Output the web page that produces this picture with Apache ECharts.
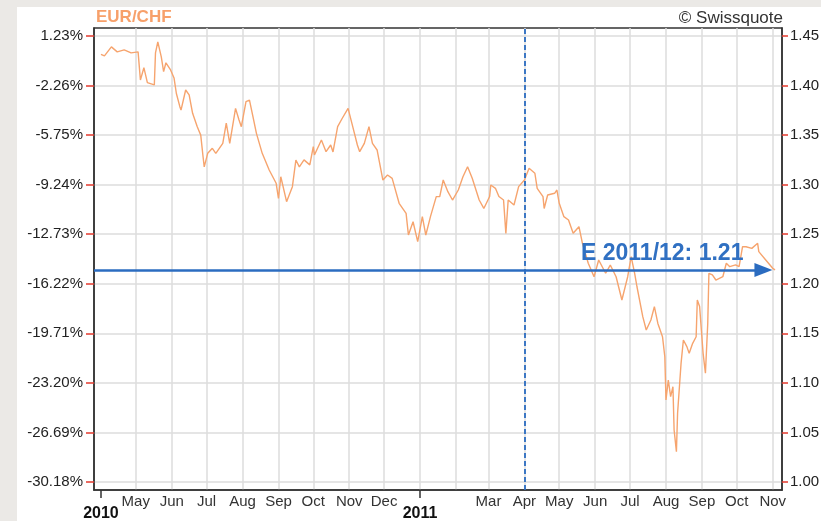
<!DOCTYPE html>
<html><head><meta charset="utf-8">
<script src="https://cdn.jsdelivr.net/npm/echarts@6/dist/echarts.min.js"></script>
<style>
html,body{margin:0;padding:0;background:#ebe9e6;width:821px;height:521px;overflow:hidden}
#c{position:absolute;left:17px;top:7px;width:804px;height:514px;background:#fff}
</style></head><body><div id="c"></div>
<script>
const dates = [
'2010-04-01','2010-04-04','2010-04-10','2010-04-15','2010-04-21','2010-04-27','2010-05-03','2010-05-05','2010-05-08','2010-05-11',
'2010-05-17','2010-05-18','2010-05-20','2010-05-23','2010-05-25','2010-05-27','2010-05-31','2010-06-03','2010-06-05','2010-06-08',
'2010-06-09','2010-06-13','2010-06-16','2010-06-19','2010-06-23','2010-06-26','2010-06-28','2010-06-29','2010-07-02','2010-07-06',
'2010-07-09','2010-07-15','2010-07-18','2010-07-21','2010-07-26','2010-07-29','2010-07-31','2010-08-04','2010-08-07','2010-08-10',
'2010-08-13','2010-08-18','2010-08-24','2010-08-30','2010-09-01','2010-09-03','2010-09-08','2010-09-13','2010-09-16','2010-09-19',
'2010-09-23','2010-09-28','2010-10-01','2010-10-02','2010-10-08','2010-10-12','2010-10-16','2010-10-18','2010-10-22','2010-10-26',
'2010-10-31','2010-11-04','2010-11-08','2010-11-10','2010-11-14','2010-11-18','2010-11-21','2010-11-25','2010-11-30','2010-12-04',
'2010-12-08','2010-12-14','2010-12-20','2010-12-22','2010-12-26','2010-12-30','2011-01-03','2011-01-06','2011-01-10','2011-01-15',
'2011-01-18','2011-01-21','2011-01-25','2011-01-29','2011-02-03','2011-02-07','2011-02-11','2011-02-15','2011-02-21','2011-02-25',
'2011-03-02','2011-03-03','2011-03-07','2011-03-10','2011-03-14','2011-03-16','2011-03-18','2011-03-23','2011-03-27','2011-04-01',
'2011-04-05','2011-04-10','2011-04-12','2011-04-17','2011-04-18','2011-04-21','2011-04-27','2011-04-29','2011-05-01','2011-05-05',
'2011-05-09','2011-05-13','2011-05-18','2011-05-21','2011-05-26','2011-05-31','2011-06-04','2011-06-10','2011-06-14','2011-06-19',
'2011-06-24','2011-06-29','2011-07-02','2011-07-05','2011-07-07','2011-07-12','2011-07-15','2011-07-19','2011-07-22','2011-07-25',
'2011-07-29','2011-07-31','2011-08-01','2011-08-03','2011-08-05','2011-08-07','2011-08-08','2011-08-10','2011-08-11','2011-08-13',
'2011-08-14','2011-08-16','2011-08-19','2011-08-21','2011-08-24','2011-08-27','2011-08-28','2011-08-30','2011-09-02','2011-09-04',
'2011-09-06','2011-09-07','2011-09-10','2011-09-13','2011-09-19','2011-09-22','2011-09-25','2011-09-30','2011-10-03','2011-10-06',
'2011-10-09','2011-10-14','2011-10-19','2011-10-20','2011-10-26','2011-11-01','2011-11-03'
];
const prices = [
1.4315,1.4300,1.4390,1.4340,1.4360,1.4330,1.4340,1.4056,1.4180,1.4030,
1.4006,1.4330,1.4440,1.4290,1.4140,1.4230,1.4157,1.4076,1.3920,1.3787,
1.3753,1.3955,1.3905,1.3720,1.3585,1.3500,1.3282,1.3180,1.3316,1.3367,
1.3316,1.3417,1.3620,1.3417,1.3770,1.3652,1.3585,1.3837,1.3854,1.3686,
1.3518,1.3316,1.3148,1.3014,1.2862,1.3080,1.2828,1.2980,1.3249,1.3180,
1.3250,1.3200,1.3383,1.3300,1.3450,1.3333,1.3400,1.3330,1.3585,1.3670,
1.3770,1.3585,1.3400,1.3333,1.3417,1.3585,1.3417,1.3350,1.3047,1.3097,
1.3064,1.2812,1.2711,1.2492,1.2626,1.2425,1.2677,1.2492,1.2677,1.2879,
1.2880,1.3047,1.2929,1.2845,1.2946,1.3080,1.3180,1.3064,1.2845,1.2760,
1.2880,1.2997,1.2963,1.2880,1.2845,1.2509,1.2845,1.2795,1.2980,1.3047,
1.3165,1.3115,1.2963,1.2880,1.2760,1.2896,1.2913,1.2946,1.2812,1.2677,
1.2643,1.2509,1.2576,1.2408,1.2207,1.2071,1.2240,1.2106,1.2189,1.2071,
1.1836,1.2071,1.2273,1.2106,1.1970,1.1668,1.1534,1.1635,1.1769,1.1600,
1.1466,1.1264,1.0827,1.1029,1.0861,1.0962,1.0525,1.0306,1.0693,1.1029,
1.1197,1.1433,1.1366,1.1298,1.1399,1.1466,1.1836,1.1770,1.1298,1.1097,
1.1600,1.2106,1.2089,1.2038,1.2071,1.2207,1.2173,1.2190,1.2173,1.2374,
1.2374,1.2357,1.2408,1.2324,1.2240,1.2156,1.2140
];
const priceTicks = [1.00,1.05,1.10,1.15,1.20,1.25,1.30,1.35,1.40,1.45];
const priceLabels = ['1.00','1.05','1.10','1.15','1.20','1.25','1.30','1.35','1.40','1.45'];
const pctLabels = ['-30.18%','-26.69%','-23.20%','-19.71%','-16.22%','-12.73%','-9.24%','-5.75%','-2.26%','1.23%'];
const monthTicks = ['2010-05-01','2010-06-01','2010-07-01','2010-08-01','2010-09-01','2010-10-01','2010-11-01','2010-12-01',
  '2011-01-01','2011-02-01','2011-03-01','2011-04-01','2011-05-01','2011-06-01','2011-07-01','2011-08-01','2011-09-01','2011-10-01','2011-11-01'];
const monthLabels = ['May','Jun','Jul','Aug','Sep','Oct','Nov','Dec','','','Mar','Apr','May','Jun','Jul','Aug','Sep','Oct','Nov'];
const yearTicks = ['2010-04-01','2011-01-01'];
const yearLabels = ['2010','2011'];
const titleText = 'EUR/CHF';
const sourceText = '\u00A9 Swissquote';
const forecastText = 'E 2011/12: 1.21';
const forecastValue = 1.214;
const forecastFrom = '2010-03-26';
const forecastTo = '2011-10-24';
const markerDate = '2011-04-01';
const xMin = '2010-03-26', xMax = '2011-11-09';
const yMin = 0.99193, yMax = 1.45807;

const ts = s => { const p = s.split('-'); return Date.UTC(+p[0], +p[1]-1, +p[2]); };
const monthTs = monthTicks.map(ts);
const monthLabelTs = monthTs.filter((t,i) => monthLabels[i] !== '');
const yearTs = yearTicks.map(ts);
const findIdx = (arr, v, tol) => arr.findIndex(a => Math.abs(a - v) < tol);
const FONT = "'Liberation Sans', Arial, sans-serif";

const chart = echarts.init(document.getElementById('c'), null, {renderer:'canvas'});
chart.setOption({
  animation: false,
  backgroundColor: '#fff',
  textStyle: {fontFamily: FONT},
  title: [
    {text: titleText, left: 79, top: 2, padding: 0, textStyle: {color:'#f7a06a', fontSize:17, fontWeight:'bold', fontFamily: FONT}},
    {text: sourceText, right: 38, top: 3, padding: 0, textStyle: {color:'#333', fontSize:17, fontWeight:'normal', fontFamily: FONT}}
  ],
  grid: {left:77, top:21, right:39, bottom:31, show:true, borderColor:'#333', borderWidth:1.5, backgroundColor:'#fff', containLabel:false, outerBoundsMode:'none'},
  xAxis: [
    {type:'value', min: ts(xMin), max: ts(xMax), position:'bottom',
     axisLine:{show:true, lineStyle:{color:'#333', width:1.5}},
     axisTick:{show:false, customValues: monthTs},
     splitLine:{show:true, lineStyle:{color:'#dcdcdc', width:1.5}},
     axisLabel:{customValues: monthLabelTs, hideOverlap:false, margin:4, color:'#333', fontSize:15, fontFamily: FONT,
       formatter: v => { const i = findIdx(monthTs, v, 86400000); return i >= 0 ? monthLabels[i] : ''; }}},
    {type:'value', min: ts(xMin), max: ts(xMax), position:'bottom',
     axisLine:{show:false},
     axisTick:{show:true, customValues: yearTs, length:8, lineStyle:{color:'#333', width:1.5}},
     splitLine:{show:false},
     axisLabel:{customValues: yearTs, hideOverlap:false, margin:16, color:'#111', fontSize:16, fontWeight:'bold', fontFamily: FONT,
       formatter: v => { const i = findIdx(yearTs, v, 86400000); return i >= 0 ? yearLabels[i] : ''; }}}
  ],
  yAxis: [
    {type:'value', position:'left', min:yMin, max:yMax,
     axisLine:{show:true, lineStyle:{color:'#333', width:1.5}},
     axisTick:{show:true, customValues: priceTicks, length:8, lineStyle:{color:'#e43a2e', width:1.5}},
     splitLine:{show:true, lineStyle:{color:'#dcdcdc', width:1.5}},
     axisLabel:{customValues: priceTicks, margin:11, color:'#222', fontSize:15, fontFamily: FONT,
       formatter: v => { const i = findIdx(priceTicks, v, 1e-6); return i >= 0 ? pctLabels[i] : ''; }}},
    {type:'value', position:'right', min:yMin, max:yMax,
     axisLine:{show:true, lineStyle:{color:'#333', width:1.5}},
     axisTick:{show:true, customValues: priceTicks, length:6, lineStyle:{color:'#e43a2e', width:1.5}},
     splitLine:{show:false},
     axisLabel:{customValues: priceTicks, margin:8, color:'#222', fontSize:15, fontFamily: FONT,
       formatter: v => { const i = findIdx(priceTicks, v, 1e-6); return i >= 0 ? priceLabels[i] : ''; }}}
  ],
  series: [{
    type:'line', xAxisIndex:0, yAxisIndex:0, showSymbol:false, symbol:'none',
    lineStyle:{color:'#f6a46e', width:1.4}, z:3,
    data: dates.map((d,i) => [ts(d), prices[i]]),
    markLine: {
      silent:true, symbol:['none','none'], animation:false,
      data: [
        {xAxis: ts(markerDate), lineStyle:{color:'#2b6cc0', width:1.8, type:[5,3]}, label:{show:false}},
        [
          {coord:[ts(forecastFrom), forecastValue], symbol:'none'},
          {coord:[ts(forecastTo), forecastValue], symbol:'triangle', symbolSize:[14,18],
           lineStyle:{color:'#2b6cc0', width:2.5, type:'solid'},
           label:{show:true, formatter: forecastText, position:'insideEndTop', distance:[20,5], color:'#3070c2', fontSize:23, fontWeight:'bold', fontFamily: FONT}}
        ]
      ],
      lineStyle:{color:'#2b6cc0', width:2.5, type:'solid'}
    }
  }]
});
</script></body></html>
